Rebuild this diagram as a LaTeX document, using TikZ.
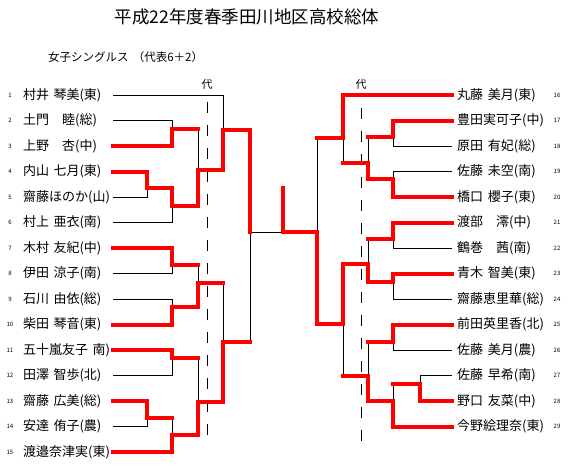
\documentclass[tikz,border=0pt]{standalone}
\usepackage{fontspec}
\setmainfont{Noto Sans CJK JP}[WordSpace=1.6]
\usetikzlibrary{positioning}
\definecolor{Rouge}{RGB}{255,0,0}
\tikzset{nomg/.style={anchor=west, inner sep=0pt, text width=90pt, align=left,
  font=\fontsize{13}{14}\selectfont}}
\tikzset{nomd/.style={anchor=west, inner xsep=5pt, inner ysep=0pt,
  font=\fontsize{13}{14}\selectfont}}
\tikzset{num/.style={inner sep=0pt, font=\fontsize{6}{7}\selectfont}}
\tikzset{perdu/.style={draw=black, line width=1pt}}
\tikzset{gagne/.style={draw=Rouge, line width=4pt, line join=miter, line cap=rect}}
\tikzset{tirets/.style={draw=black, line width=1pt, dash pattern=on 11pt off 12pt}}

\begin{document}
\begin{tikzpicture}[x=1pt, y=-1pt]
\useasboundingbox (0,0) rectangle (568,467);
\node[font=\fontsize{17.5}{18}\selectfont] (titre) at (247,17) {平成22年度春季田川地区高校総体};
\node[anchor=west, inner sep=0pt, font=\fontsize{11.5}{12}\selectfont] (sous) at (48,57) {女子シングルス （代表6＋2）};
% joueuses
\foreach \i/\t in {1/{村井 琴美(東)}, 2/{土門　睦(総)}, 3/{上野　杏(中)}, 4/{内山 七月(東)},
  5/{齋藤ほのか(山)}, 6/{村上 亜衣(南)}, 7/{木村 友紀(中)}, 8/{伊田 涼子(南)},
  9/{石川 由依(総)}, 10/{柴田 琴音(東)}, 11/{五十嵐友子 南)}, 12/{田澤 智歩(北)},
  13/{齋藤 広美(総)}, 14/{安達 侑子(農)}, 15/{渡邉奈津実(東)}}{
  \node[nomg] (n\i) at (23,{95+25.5*(\i-1)}) {\t};
  \node[num] (c\i) at (10,{95+25.5*(\i-1)}) {\i};
}
\foreach \i/\t in {16/{丸藤 美月(東)}, 17/{豊田実可子(中)}, 18/{原田 有妃(総)}, 19/{佐藤 未空(南)},
  20/{橋口 櫻子(東)}, 21/{渡部　澪(中)}, 22/{鶴巻　茜(南)}, 23/{青木 智美(東)},
  24/{齋藤恵里華(総)}, 25/{前田英里香(北)}, 26/{佐藤 美月(農)}, 27/{佐藤 早希(南)},
  28/{野口 友菜(中)}, 29/{今野絵理奈(東)}}{
  \node[nomd] (n\i) at (452,{95+25.5*(\i-16)}) {\t};
  \node[num] (c\i) at (557,{95+25.5*(\i-16)}) {\i};
}
% points de rencontre
\coordinate (a23) at (172,129);   \coordinate (a45) at (147,188);
\coordinate (a456) at (172,206);  \coordinate (a2_6) at (198,170);
\coordinate (a1_6) at (223,130);  \coordinate (a78) at (172,265);
\coordinate (a910) at (172,307);  \coordinate (a7_10) at (198,283);
\coordinate (a1112) at (172,358); \coordinate (a1314) at (147,418);
\coordinate (a13_15) at (172,435);\coordinate (a11_15) at (198,402);
\coordinate (a7_15) at (223,342); \coordinate (gauche) at (250,232);
\coordinate (b1718) at (393,137); \coordinate (b1920) at (393,179);
\coordinate (b17_20) at (368,163);\coordinate (b16_20) at (343,138);
\coordinate (b2122) at (393,239); \coordinate (b2324) at (393,282);
\coordinate (b21_24) at (368,264);\coordinate (b2526) at (393,342);
\coordinate (b2728) at (420,384); \coordinate (b27_29) at (393,401);
\coordinate (b25_29) at (368,376);\coordinate (b21_29) at (343,324);
\coordinate (droite) at (317,232);\coordinate (finale) at (283,232);
\coordinate (champ) at (283,188);
% representants
\node[font=\fontsize{11}{12}\selectfont, inner sep=0pt] (dai1) at (207,84) {代};
\node[font=\fontsize{11}{12}\selectfont, inner sep=0pt] (dai2) at (361,84) {代};
\draw[tirets] (207,102) -- (207,440);
\draw[tirets] (361,108) -- (361,445);
% tableau
\draw[perdu] (n1.east) -| (a1_6);  \draw[perdu] (n2.east) -| (a23);  \draw[perdu] (n3.east) -| (a23);
\draw[perdu] (n4.east) -| (a45);   \draw[perdu] (n5.east) -| (a45);  \draw[perdu] (n6.east) -| (a456);
\draw[perdu] (n7.east) -| (a78);   \draw[perdu] (n8.east) -| (a78);  \draw[perdu] (n9.east) -| (a910);
\draw[perdu] (n10.east) -| (a910); \draw[perdu] (n11.east) -| (a1112); \draw[perdu] (n12.east) -| (a1112);
\draw[perdu] (n13.east) -| (a1314); \draw[perdu] (n14.east) -| (a1314); \draw[perdu] (n15.east) -| (a13_15);
\draw[perdu] (a45) -| (a456) -| (a2_6) -| (a1_6) -| (gauche) -- (finale);
\draw[perdu] (a23) -| (a2_6);  \draw[perdu] (a78) -| (a7_10) -| (a7_15) -| (gauche);
\draw[perdu] (a910) -| (a7_10);  \draw[perdu] (a1112) -| (a11_15) -| (a7_15);
\draw[perdu] (a1314) -| (a13_15) -| (a11_15);
\draw[perdu] (n16.west) -| (b16_20); \draw[perdu] (n17.west) -| (b1718); \draw[perdu] (n18.west) -| (b1718);
\draw[perdu] (n19.west) -| (b1920); \draw[perdu] (n20.west) -| (b1920); \draw[perdu] (n21.west) -| (b2122);
\draw[perdu] (n22.west) -| (b2122); \draw[perdu] (n23.west) -| (b2324); \draw[perdu] (n24.west) -| (b2324);
\draw[perdu] (n25.west) -| (b2526); \draw[perdu] (n26.west) -| (b2526); \draw[perdu] (n27.west) -| (b2728);
\draw[perdu] (n28.west) -| (b2728); \draw[perdu] (n29.west) -| (b27_29);
\draw[perdu] (b1718) -| (b17_20) -| (b16_20) -| (droite) -- (finale);
\draw[perdu] (b1920) -| (b17_20);  \draw[perdu] (b2122) -| (b21_24) -| (b21_29) -| (droite);
\draw[perdu] (b2324) -| (b21_24);  \draw[perdu] (b2526) -| (b25_29) -| (b21_29);
\draw[perdu] (b2728) -| (b27_29) -| (b25_29);
% vainqueurs
\draw[gagne] (n3.east) -| (a23) -- (a23 -| a2_6);
\draw[gagne] (n4.east) -| (a45) -| (a456) -| (a2_6) -| (a1_6) -| (gauche);
\draw[gagne] (n7.east) -| (a78) -- (a78 -| a7_10);
\draw[gagne] (n10.east) -| (a910) -| (a7_10) -- (a7_10 -| a7_15);
\draw[gagne] (n11.east) -| (a1112) -- (a1112 -| a11_15);
\draw[gagne] (n13.east) -| (a1314) -- (a1314 -| a13_15);
\draw[gagne] (n15.east) -| (a13_15) -| (a11_15) -| (a7_15) -- (a7_15 -| gauche);
\draw[gagne] (n16.west) -| (b16_20) -- (b16_20 -| droite);
\draw[gagne] (n17.west) -| (b1718) -- (b1718 -| b17_20);
\draw[gagne] (n20.west) -| (b1920) -| (b17_20) -- (b17_20 -| b16_20);
\draw[gagne] (n21.west) -| (b2122) -- (b2122 -| b21_24);
\draw[gagne] (n23.west) -| (b2324) -| (b21_24) -| (b21_29) -| (droite) -- (finale) -- (champ);
\draw[gagne] (n25.west) -| (b2526) -- (b2526 -| b25_29);
\draw[gagne] (n28.west) -| (b2728) -- (b2728 -| b27_29);
\draw[gagne] (n29.west) -| (b27_29) -| (b25_29) -- (b25_29 -| b21_29);
\end{tikzpicture}
\end{document}
